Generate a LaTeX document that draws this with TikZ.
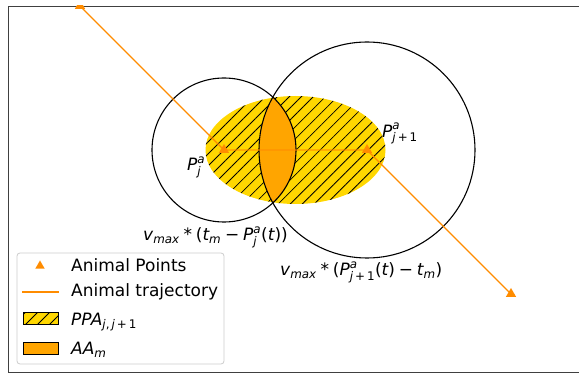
\documentclass[tikz,border=0pt]{standalone}
\usepackage{amsmath}
\usepackage{fontspec}
\setmainfont{DejaVu Sans}
\usepackage{tikz}
\usetikzlibrary{shapes.geometric,patterns.meta}
\definecolor{trajorange}{HTML}{FF8C00}
\definecolor{ppagold}{HTML}{FFD700}
\definecolor{aaorange}{HTML}{FFA500}
\definecolor{legframe}{HTML}{CCCCCC}
\newcommand{\mi}[1]{\text{\itshape #1}}

\begin{document}
\begin{tikzpicture}[
  x=1pt,y=-1pt,
  font=\fontsize{17}{20}\selectfont,
  circ/.style={draw=black,line width=1.1pt},
  traj/.style={draw=trajorange,line width=1.4pt},
  ptmark/.style={regular polygon,regular polygon sides=3,fill=trajorange,
               inner sep=0pt,minimum size=12pt},
  ppa/.style={preaction={fill=ppagold},
               pattern={Lines[angle=45,distance=8.5pt,line width=0.8pt]},
               pattern color=black},
  lab/.style={anchor=base west,inner sep=0pt},
  legbox/.style={draw=legframe,line width=0.8pt,fill=white,
               rounded corners=3pt,inner sep=0pt,
               minimum width=207pt,minimum height=111pt}
]
\useasboundingbox (0,0) rectangle (579,374);

% axes frame (right side runs off the page)
\draw[black!75,line width=0.9pt] (582,6) -- (8,6) -- (8,372) -- (582,372);

\coordinate (start) at (80,6);
\coordinate (pj) at (224,150);
\coordinate (pj1) at (367,150);
\coordinate (stop) at (511,294);
\coordinate (ppac) at (295.5,150);

\begin{scope}
  \clip (8,6) rectangle (582,372);
  % possible presence area
  \path[ppa] (ppac) ellipse [x radius=90, y radius=54];
  % accessible area = overlap of both reach circles
  \begin{scope}
    \clip (pj) circle [radius=72];
    \fill[aaorange] (pj1) circle [radius=108];
  \end{scope}
  \draw[circ] (pj) circle [radius=72];
  \draw[circ] (pj1) circle [radius=108];

  \draw[traj] (start) -- (pj);
  \draw[traj,opacity=0.55] (pj) -- (pj1);
  \draw[traj] (pj1) -- (stop);

  \node[ptmark] (mstart) at (start) {};
  \node[ptmark] (mpj) at (pj) {};
  \node[ptmark] (mpj1) at (pj1) {};
  \node[ptmark] (mstop) at (stop) {};
\end{scope}

\node[lab] (lpj) at (187,171) {$\mi{P}^{\mi{a}}_{\mi{j}}$};
\node[lab] (lpj1) at (382,137.5) {$\mi{P}^{\mi{a}}_{\mi{j}\,\text{+}\,\text{1}}$};
\node[lab] (rj) at (143,241)
  {$\mi{v}_{\mi{max}}\mathbin{\text{*}}\text{(}\mi{t}_{\mi{m}}\mathbin{\text{−}}
    \mi{P}^{\mi{a}}_{\mi{j}}\text{(}\mi{t}\text{))}$};
\node[lab] (rj1) at (280,276)
  {$\mi{v}_{\mi{max}}\mathbin{\text{*}}\text{(}\mi{P}^{\mi{a}}_{\mi{j}\,\text{+}\,\text{1}}
    \text{(}\mi{t}\text{)}\mathbin{\text{−}}\mi{t}_{\mi{m}}\text{)}$};

% legend
\node[legbox] (legend) at (120.5,308.5) {};
\node[ptmark,minimum size=11pt] (kpts) at (40,266) {};
\draw[trajorange,line width=2.8pt] (22,292) -- (59,292);
\path[ppa,draw=black,line width=0.8pt] (23,312.5) rectangle (58,324.5);
\draw[fill=aaorange,draw=black,line width=0.8pt] (23,342) rectangle (58,354);
\node[lab] (tpts) at (71,271.5) {Animal Points};
\node[lab] (ttraj) at (71,297) {Animal trajectory};
\node[lab] (tppa) at (71,325.5) {$\mi{PPA}_{\mi{j}\text{,}\,\mi{j}\,\text{+}\,\text{1}}$};
\node[lab] (taa) at (71,354.5) {$\mi{AA}_{\mi{m}}$};
\end{tikzpicture}
\end{document}
